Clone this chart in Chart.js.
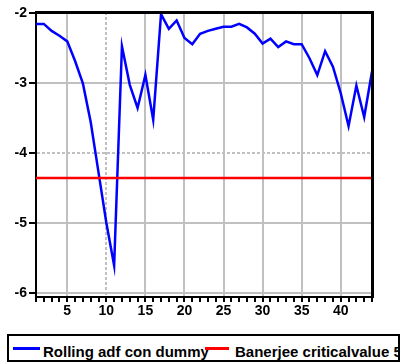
<!DOCTYPE html>
<html>
<head>
<meta charset="utf-8">
<script src="https://cdn.jsdelivr.net/npm/chart.js@4"></script>
<style>
  html, body { margin: 0; background: #fff; width: 404px; height: 363px; overflow: hidden; }
  body { position: relative; }
  #chart { position: absolute; left: 0; top: 0; }
  #legend {
    position: absolute; left: 7px; top: 334px; width: 393px; height: 28px;
    border: 2px solid #000; box-sizing: border-box; overflow: hidden;
    font: bold 15px "Liberation Sans", Arial, sans-serif; line-height: 15px;
    white-space: nowrap;
  }
  #legend .sw { position: absolute; height: 2.5px; top: 11px; }
  #legend .txt { position: absolute; top: 8px; }
</style>
</head>
<body>
<canvas id="chart" width="404" height="330"></canvas>
<div id="legend">
  <span class="sw" style="left:4px;width:27px;background:#0000ff"></span>
  <span class="txt" style="left:34px">Rolling adf con dummy</span>
  <span class="sw" style="left:196px;width:24px;background:#ff0000"></span>
  <span class="txt" style="left:226px">Banerjee criticalvalue 5%</span>
</div>
<script>
const periods = [1, 2, 3, 4, 5, 6, 7, 8, 9, 10, 11, 12, 13, 14, 15, 16, 17, 18, 19, 20, 21, 22,
  23, 24, 25, 26, 27, 28, 29, 30, 31, 32, 33, 34, 35, 36, 37, 38, 39, 40, 41, 42, 43, 44];
const adfValues = [-2.15, -2.15, -2.25, -2.32, -2.40, -2.68, -3.00, -3.55, -4.27, -4.99, -5.60,
  -2.47, -3.02, -3.35, -2.88, -3.52, -2.01, -2.22, -2.10, -2.35, -2.44, -2.29, -2.25, -2.22,
  -2.19, -2.19, -2.15, -2.20, -2.29, -2.43, -2.36, -2.48, -2.40, -2.44, -2.44, -2.64, -2.88,
  -2.54, -2.76, -3.14, -3.61, -3.03, -3.48, -2.83];
const critValue = -4.35;
const xLabelEvery = 5;

const tickFont = { family: "Liberation Sans, Arial, sans-serif", size: 14, weight: "bold" };
const gridGray = "#c0c0c0";

// closes the plot box on the top and right sides
const frame = {
  id: "frame",
  afterDraw(chart) {
    const { ctx, chartArea: a } = chart;
    ctx.save();
    ctx.setLineDash([]);
    ctx.globalAlpha = 1;
    ctx.fillStyle = "#000";
    ctx.fillRect(a.left, a.top - 1, a.right - a.left + 2, 3);
    ctx.fillRect(a.right - 1, a.top - 1, 3, a.bottom - a.top + 2);
    ctx.restore();
  },
};

new Chart(document.getElementById("chart"), {
  type: "line",
  data: {
    datasets: [
      {
        label: "Rolling adf con dummy",
        data: periods.map((p, i) => ({ x: p, y: adfValues[i] })),
        borderColor: "#0000ff",
        borderWidth: 2.5,
        pointRadius: 0,
        tension: 0,
        order: 1,
      },
      {
        label: "Banerjee criticalvalue 5%",
        data: [
          { x: periods[0], y: critValue },
          { x: periods[periods.length - 1], y: critValue },
        ],
        borderColor: "#ff0000",
        borderWidth: 2.5,
        pointRadius: 0,
        order: 0,
      },
    ],
  },
  options: {
    responsive: false,
    animation: false,
    layout: { padding: { left: 0, top: 12, right: 32, bottom: 0 } },
    plugins: { legend: { display: false }, tooltip: { enabled: false } },
    scales: {
      x: {
        type: "linear",
        min: 1,
        max: 44,
        afterFit: (s) => { s.height = 33; },
        ticks: {
          stepSize: 1,
          autoSkip: false,
          maxRotation: 0,
          padding: 1,
          color: "#000",
          font: tickFont,
          callback: (v) => (v % xLabelEvery === 0 ? v : ""),
        },
        grid: {
          color: (c) => (c.tick && c.tick.value % xLabelEvery === 0 ? gridGray : "rgba(0,0,0,0)"),
          lineWidth: 2,
          tickColor: "#000",
          tickLength: 5,
          tickWidth: 2,
        },
        border: {
          color: "#000",
          width: 2,
          dash: (c) => (c.tick && c.tick.value === 10 ? [3, 2] : []),
        },
      },
      y: {
        min: -6.05,
        max: -1.98,
        afterFit: (s) => { s.width = 36; },
        ticks: {
          stepSize: 1,
          includeBounds: false,
          padding: 2,
          color: "#000",
          font: tickFont,
        },
        grid: {
          color: gridGray,
          lineWidth: 2,
          tickColor: "#000",
          tickLength: 7,
          tickWidth: 2,
        },
        border: {
          color: "#000",
          width: 2,
          dash: (c) => (c.tick && c.tick.value === -4 ? [3, 2] : []),
        },
      },
    },
  },
  plugins: [frame],
});
</script>
</body>
</html>
